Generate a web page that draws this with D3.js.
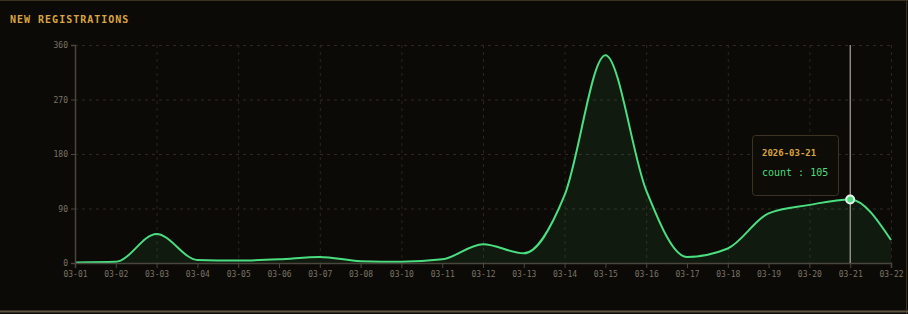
<!DOCTYPE html>
<html>
<head>
<meta charset="utf-8">
<script src="https://cdn.jsdelivr.net/npm/d3@7"></script>
<style>
	html, body { margin: 0; padding: 0; background: #0c0a06; }
	svg { display: block; }
	.tick text { font-family: "DejaVu Sans Mono", monospace; font-size: 8px; fill: #7a7468; }
</style>
</head>
<body>
<svg width="908" height="314"></svg>
<script>
// chart data
const dates = ['03-01','03-02','03-03','03-04','03-05','03-06','03-07','03-08','03-10','03-11',
	'03-12','03-13','03-14','03-15','03-16','03-17','03-18','03-19','03-20','03-21','03-22'];
const counts = [1, 2, 48, 5, 4, 6, 10, 3, 2, 6, 31, 16, 112, 343, 120, 10, 24, 82, 96, 105, 38];
const yTicks = [0, 90, 180, 270, 360];
const hoverIndex = 19;
const hoverLabel = '2026-03-21';

let svg = d3.select("svg"),
		width = +svg.attr("width"),
		height = +svg.attr("height");

const margin = { top: 45, right: 17, bottom: 51, left: 75 };
const plotW = width - margin.left - margin.right,
		plotH = height - margin.top - margin.bottom;

// panel frame
svg.append("rect")
	.attr("x", 0).attr("y", 0)
	.attr("width", width).attr("height", height)
	.attr("fill", "#0c0a06");
svg.append("line").attr("x1", 0).attr("x2", width).attr("y1", 0.5).attr("y2", 0.5)
	.attr("stroke", "#3b3322");
svg.append("line").attr("x1", width - 1.5).attr("x2", width - 1.5).attr("y1", 0).attr("y2", height)
	.attr("stroke", "#3b3322");
svg.append("line").attr("x1", 0).attr("x2", width).attr("y1", 311.5).attr("y2", 311.5)
	.attr("stroke", "#5e5640").attr("stroke-width", 2);

svg.append("text")
	.attr("x", 10).attr("y", 23)
	.attr("font-family", "'DejaVu Sans Mono', monospace")
	.attr("font-size", 10).attr("font-weight", "bold")
	.attr("letter-spacing", 1)
	.attr("fill", "#d9a441")
	.text("NEW REGISTRATIONS");

const g = svg.append("g").attr("transform", `translate(${margin.left},${margin.top})`);

const x = d3.scalePoint().domain(dates).range([0, plotW]);
const y = d3.scaleLinear().domain([0, 360]).range([plotH, 0]);

// grid
g.append("g").selectAll("line")
	.data(yTicks.slice(1))
	.enter().append("line")
		.attr("x1", 0).attr("x2", plotW)
		.attr("y1", d => y(d) + 0.5).attr("y2", d => y(d) + 0.5)
		.attr("stroke", "#2e2a22").attr("stroke-dasharray", "3,4");

g.append("g").selectAll("line")
	.data(dates.filter((d, i) => i > 0 && i % 2 === 0))
	.enter().append("line")
		.attr("x1", d => x(d) + 0.5).attr("x2", d => x(d) + 0.5)
		.attr("y1", 0).attr("y2", plotH)
		.attr("stroke", "#2a261f").attr("stroke-dasharray", "3,4");

// area + line
const area = d3.area()
	.x((d, i) => x(dates[i]))
	.y0(plotH)
	.y1(d => y(d))
	.curve(d3.curveMonotoneX);

const line = d3.line()
	.x((d, i) => x(dates[i]))
	.y(d => y(d))
	.curve(d3.curveMonotoneX);

g.append("path")
	.datum(counts)
	.attr("d", area)
	.attr("fill", "#4ade80").attr("fill-opacity", 0.08);

g.append("path")
	.datum(counts)
	.attr("d", line)
	.attr("fill", "none")
	.attr("stroke", "#4ade80").attr("stroke-width", 2);

// axes
const yAxis = g.append("g")
	.call(d3.axisLeft(y).tickValues(yTicks).tickSize(4).tickPadding(3));
const xAxis = g.append("g")
	.attr("transform", `translate(0,${plotH})`)
	.call(d3.axisBottom(x).tickSize(5).tickPadding(3));

[yAxis, xAxis].forEach(a => {
	a.select(".domain").attr("stroke", "#4a463e").attr("stroke-width", 1.5);
	a.selectAll(".tick line").attr("stroke", "#4a463e");
});

// hover marker
const hx = x(dates[hoverIndex]), hy = y(counts[hoverIndex]);
g.append("line")
	.attr("x1", hx).attr("x2", hx)
	.attr("y1", 0).attr("y2", plotH)
	.attr("stroke", "#c8c4bc").attr("stroke-width", 1);

g.append("circle")
	.attr("cx", hx).attr("cy", hy).attr("r", 4)
	.attr("fill", "#4ade80")
	.attr("stroke", "#e8f5ec").attr("stroke-width", 2);

// tooltip
const tip = svg.append("g").attr("transform", "translate(752,135)");
tip.append("rect")
	.attr("x", 0.5).attr("y", 0.5)
	.attr("width", 86).attr("height", 60)
	.attr("rx", 3)
	.attr("fill", "#0e0c07").attr("fill-opacity", 0.9)
	.attr("stroke", "#3b3424");
tip.append("text")
	.attr("x", 10).attr("y", 21)
	.attr("font-family", "'DejaVu Sans Mono', monospace")
	.attr("font-size", 9).attr("font-weight", "bold")
	.attr("fill", "#d9a441")
	.text(hoverLabel);
tip.append("text")
	.attr("x", 10).attr("y", 41)
	.attr("font-family", "'DejaVu Sans Mono', monospace")
	.attr("font-size", 10)
	.attr("fill", "#4ade80")
	.text("count : " + counts[hoverIndex]);
</script>
</body>
</html>
